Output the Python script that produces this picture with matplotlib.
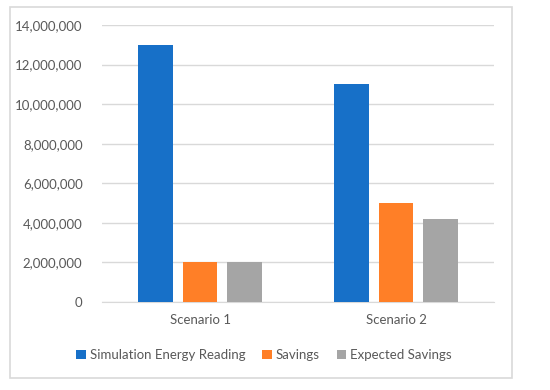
import matplotlib
matplotlib.use("Agg")
import matplotlib.pyplot as plt
from matplotlib.patches import Rectangle
from matplotlib.ticker import FuncFormatter
import numpy as np

categories = ["Scenario 1", "Scenario 2"]
series_names = ["Simulation Energy Reading", "Savings", "Expected Savings"]
simulation = [13000000, 11000000]
savings = [2000000, 5000000]
expected = [2000000, 4200000]
colors = ["#1770C8", "#FF7F27", "#A5A5A5"]

plt.rcParams['font.family'] = ['Lato', 'DejaVu Sans']

fig = plt.figure(figsize=(5.5, 3.9), dpi=100)
fig.patches.append(Rectangle((10/550, 1-378/390), 502/550, 371/390, transform=fig.transFigure,
                             fill=False, edgecolor="#D9D9D9", linewidth=1.2))
ax = fig.add_axes([102/550, 1-302/390, 392/550, 277/390])

x = np.arange(len(categories))
w = 0.178
gap = 0.225
for i, (vals, name, c) in enumerate(zip([simulation, savings, expected], series_names, colors)):
    ax.bar(x + (i-1)*gap, vals, width=w, color=c, label=name, zorder=3)

ax.set_xlim(-0.5, 1.5)
ax.set_ylim(0, 14000000)
ax.set_yticks(np.arange(0, 14000001, 2000000))
ax.yaxis.set_major_formatter(FuncFormatter(lambda v, p: f"{int(v):,}"))
ax.set_xticks(x)
ax.set_xticklabels(categories)
ax.grid(axis='y', color="#D9D9D9", linewidth=1, zorder=0)
for s in ["top", "right", "left"]:
    ax.spines[s].set_visible(False)
ax.spines["bottom"].set_color("#D9D9D9")
ax.tick_params(axis='both', length=0, colors="#595959", labelsize=9.5)
ax.tick_params(axis='y', pad=14)
ax.tick_params(axis='x', pad=9)

leg = fig.legend(loc='center', bbox_to_anchor=(264/550, 1-355/390), ncol=3, frameon=False,
                 fontsize=9.5, handlelength=0.7, handleheight=0.7, handletextpad=0.3,
                 columnspacing=1.3, labelcolor="#595959")

fig.savefig("out.png", dpi=100)
